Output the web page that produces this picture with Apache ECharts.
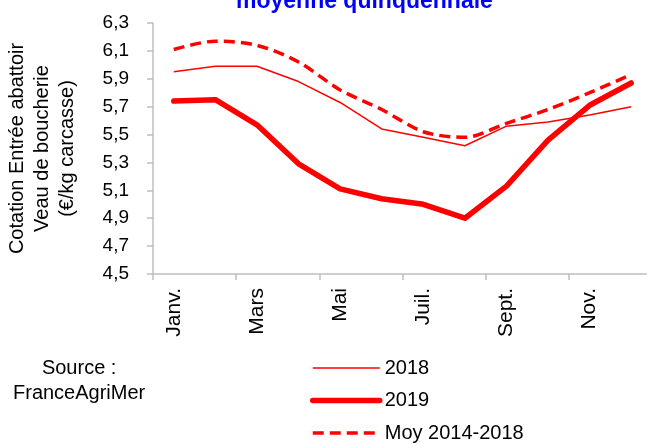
<!DOCTYPE html>
<html>
<head>
<meta charset="utf-8">
<script src="https://cdn.jsdelivr.net/npm/echarts@6/dist/echarts.min.js"></script>
<style>
  html, body { margin: 0; padding: 0; background: #fff; }
  #main { width: 647px; height: 443px; }
</style>
</head>
<body>
<div id="main"></div>
<script>
 // mois (un label sur deux affiché)
 var mois = ['Janv.', 'Févr.', 'Mars', 'Avr.', 'Mai', 'Juin', 'Juil.', 'Août', 'Sept.', 'Oct.', 'Nov.', 'Déc.'];

 // cotations en €/kg carcasse
 var val2018 = [5.95, 5.99, 5.99, 5.88, 5.73, 5.54, 5.48, 5.42, 5.56, 5.59, 5.64, 5.70];
 var val2019 = [5.74, 5.75, 5.57, 5.29, 5.11, 5.04, 5.00, 4.90, 5.13, 5.46, 5.71, 5.87];
 var valMoy = [6.11, 6.17, 6.14, 6.02, 5.82, 5.68, 5.52, 5.48, 5.58, 5.68, 5.80, 5.93];

 var rouge = '#ff0000';
 var police = 'Liberation Sans, Arial, sans-serif';

 var chart = echarts.init(document.getElementById('main'));

 var option = {
     backgroundColor: '#fff',
     animation: false,
     title: {
         text: 'moyenne quinquennale',
         left: 236,
         top: -10,
         padding: 0,
         textStyle: { color: '#0000ff', fontSize: 23, fontWeight: 'bold', fontFamily: police }
     },
     graphic: [{
         type: 'text',
         left: 13,
         top: 356,
         style: {
             text: 'Source :\nFranceAgriMer',
             textAlign: 'center',
             fill: '#000',
             fontSize: 20,
             lineHeight: 25,
             fontFamily: police
         }
     }],
     legend: {
         orient: 'vertical',
         left: 310,
         top: 358,
         padding: 0,
         itemWidth: 67,
         itemHeight: 14,
         itemGap: 12.5,
         itemStyle: { opacity: 0 },
         textStyle: { color: '#000', fontSize: 20, lineHeight: 20, fontFamily: police },
         data: [
             { name: '2018', lineStyle: { width: 1.5 } },
             { name: '2019', lineStyle: { width: 5.5, cap: 'round' } },
             { name: 'Moy 2014-2018', lineStyle: { width: 3.5 } }
         ]
     },
     grid: {
         left: 153,
         top: 23,
         width: 499,
         height: 251,
         containLabel: false,
         outerBoundsMode: 'none'
     },
     xAxis: {
         type: 'category',
         data: mois,
         boundaryGap: true,
         axisLine: { lineStyle: { color: '#bfbfbf', width: 1.5 } },
         axisTick: { show: true, length: 6, lineStyle: { color: '#bfbfbf', width: 1.5 } },
         axisLabel: {
             interval: 1,
             rotate: 90,
             margin: 14,
             color: '#000',
             fontSize: 21,
             fontFamily: police
         },
         splitLine: { show: false }
     },
     yAxis: {
         type: 'value',
         min: 4.5,
         max: 6.3,
         interval: 0.2,
         name: 'Cotation Entrée abattoir\nVeau de boucherie\n(€/kg carcasse)',
         nameLocation: 'middle',
         nameGap: 73,
         nameTextStyle: { color: '#000', fontSize: 20, lineHeight: 25, fontFamily: police },
         axisLine: { show: true, lineStyle: { color: '#bfbfbf', width: 1.5 } },
         axisTick: { show: true, length: 6, lineStyle: { color: '#bfbfbf', width: 1.5 } },
         axisLabel: {
             margin: 24,
             color: '#000',
             fontSize: 19,
             fontFamily: police,
             formatter: function (v) { return v.toFixed(1).replace('.', ','); }
         },
         splitLine: { show: false }
     },
     series: [
         {
             name: '2018',
             type: 'line',
             data: val2018,
             symbol: 'none',
             color: rouge,
             lineStyle: { color: rouge, width: 1.5 }
         },
         {
             name: '2019',
             type: 'line',
             data: val2019,
             symbol: 'none',
             color: rouge,
             lineStyle: { color: rouge, width: 5.5, cap: 'round', join: 'round' }
         },
         {
             name: 'Moy 2014-2018',
             type: 'line',
             data: valMoy,
             symbol: 'none',
             smooth: 0.3,
             color: rouge,
             lineStyle: { color: rouge, width: 3.5, type: [11, 6] }
         }
     ]
 };

 chart.setOption(option, true);
 window.addEventListener('resize', function () {
     chart.resize();
 });
</script>
</body>
</html>
